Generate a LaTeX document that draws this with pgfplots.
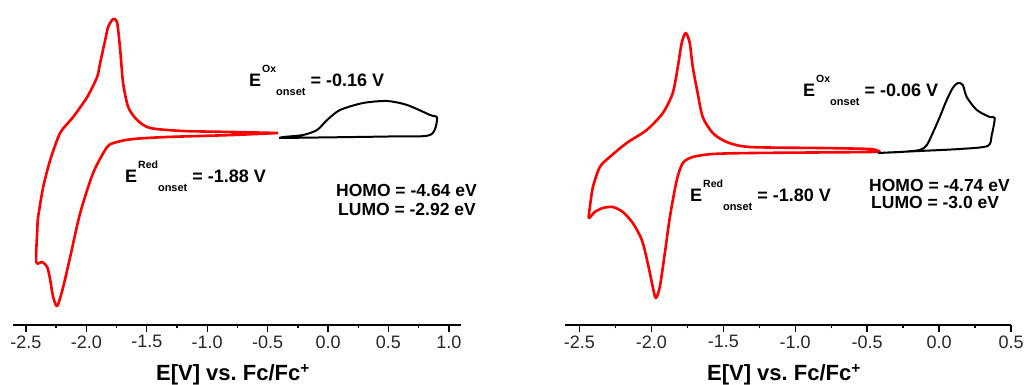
\documentclass[border=0pt]{standalone}
\usepackage{fontspec}
\setmainfont{Liberation Sans}
\usepackage{pgfplots}
\pgfplotsset{compat=1.18}

% shared look of the two voltammogram panels
\pgfplotsset{
  cvpanel/.style={
    scale only axis,
    anchor=south west,
    height=325pt,
    ymin=0, ymax=325,
    clip=false,
    axis x line=bottom,
    axis y line=none,
    x axis line style={-, line width=1.3pt},
    xtick distance=0.5,
    minor x tick num=1,
    xtick align=outside,
    major tick length=7pt,
    minor tick length=3.5pt,
    every tick/.style={black, line width=1.3pt},
    xticklabel style={font=\fontsize{18}{18}\selectfont, text=black!85},
    /pgf/number format/.cd, fixed, fixed zerofill, precision=1, assume math mode=true,
    /pgfplots/.cd,
    xlabel={E[V] vs.\ Fc/Fc\textsuperscript{+}},
    xlabel style={font=\fontsize{22}{22}\selectfont\bfseries,
      at={(axis description cs:0.5,0)}, anchor=base, yshift=-56pt, xshift=-4pt},
  },
  redcv/.style={red, line width=2.6pt, line join=round, smooth, tension=0.45},
  blackcv/.style={black, line width=2pt, line join=round, smooth, tension=0.45},
}

% E^{...}_{onset} = ... V, with the sub- and superscript set one after the other
\newcommand{\eonset}[2]{{\fontsize{18}{18}\selectfont\bfseries E\hspace{1pt}\raisebox{14pt}{\fontsize{10.5}{10.5}\selectfont #1}\raisebox{-9pt}{\fontsize{11}{11}\selectfont onset} = #2 V}}

\begin{document}
\begin{tikzpicture}[x=1pt,y=1pt]
\useasboundingbox (0,0) rectangle (1025,385);

% ---------- left panel ----------
\begin{axis}[cvpanel, at={(13pt,60pt)}, width=448pt, xmin=-2.607, xmax=1.10]
\addplot[redcv] coordinates {
(-0.414,192) (-0.786,190) (-1.332,188) (-1.613,186) (-1.745,183) (-1.828,178)
(-1.944,152) (-2.051,112) (-2.134,68) (-2.192,38) (-2.241,19) (-2.275,28)
(-2.299,45) (-2.324,58) (-2.366,63) (-2.415,63) (-2.406,95) (-2.399,108) (-2.357,138)
(-2.299,165) (-2.217,192) (-2.109,208) (-1.993,228) (-1.911,248) (-1.886,262)
(-1.844,285) (-1.820,298) (-1.778,306) (-1.745,302) (-1.720,275) (-1.696,242)
(-1.654,218) (-1.580,205) (-1.472,197) (-1.199,194) (-0.786,193) (-0.414,192)
};
\addplot[blackcv] coordinates {
(-0.405,187) (-0.372,188) (-0.207,190) (-0.091,195) (-0.008,205) (0.099,215)
(0.290,222) (0.488,224) (0.654,220) (0.844,210) (0.902,207) (0.844,190)
(0.500,188.5) (-0.405,187)
};
\end{axis}

% ---------- right panel ----------
\begin{axis}[cvpanel, at={(565pt,60pt)}, width=446pt, xmin=-2.6, xmax=0.5]
\addplot[redcv] coordinates {
(-0.426,174) (-0.482,173) (-1.295,172) (-1.573,171) (-1.712,168) (-1.781,162)
(-1.823,145) (-1.871,108) (-1.906,72) (-1.941,38) (-1.969,27) (-1.990,38)
(-2.025,62) (-2.066,85) (-2.129,102) (-2.198,113) (-2.268,118) (-2.337,117)
(-2.393,113) (-2.434,107) (-2.427,118) (-2.406,138) (-2.358,158) (-2.289,168)
(-2.171,182) (-2.032,195) (-1.920,212) (-1.851,232) (-1.816,258) (-1.789,282)
(-1.761,292) (-1.733,282) (-1.712,258) (-1.678,232) (-1.643,208) (-1.573,192)
(-1.476,183) (-1.316,178) (-0.829,177) (-0.482,176) (-0.426,174)
};
\addplot[blackcv] coordinates {
(-0.426,172) (-0.273,173) (-0.134,175) (-0.085,180) (-0.044,192) (0.005,208)
(0.053,225) (0.095,237) (0.130,242) (0.165,240) (0.192,228) (0.262,215)
(0.352,208) (0.387,207) (0.366,190) (0.338,179) (0.144,176) (-0.134,174)
(-0.426,172)
};
\end{axis}

% ---------- annotations ----------
\node[anchor=base west, inner sep=0] at (249,298) {\eonset{Ox}{-0.16}};
\node[anchor=base west, inner sep=0] at (125,202) {\eonset{Red}{-1.88}};
\node[anchor=base west, inner sep=0, font=\fontsize{17.5}{17.5}\selectfont\bfseries] at (336,188) {HOMO = -4.64 eV};
\node[anchor=base west, inner sep=0, font=\fontsize{17.5}{17.5}\selectfont\bfseries] at (338,169.5) {LUMO = -2.92 eV};

\node[anchor=base west, inner sep=0] at (803,288.5) {\eonset{Ox}{-0.06}};
\node[anchor=base west, inner sep=0] at (690,183) {\eonset{Red}{-1.80}};
\node[anchor=base west, inner sep=0, font=\fontsize{17.5}{17.5}\selectfont\bfseries] at (869,193) {HOMO = -4.74 eV};
\node[anchor=base west, inner sep=0, font=\fontsize{17.5}{17.5}\selectfont\bfseries] at (871,176) {LUMO = -3.0 eV};
\end{tikzpicture}
\end{document}
